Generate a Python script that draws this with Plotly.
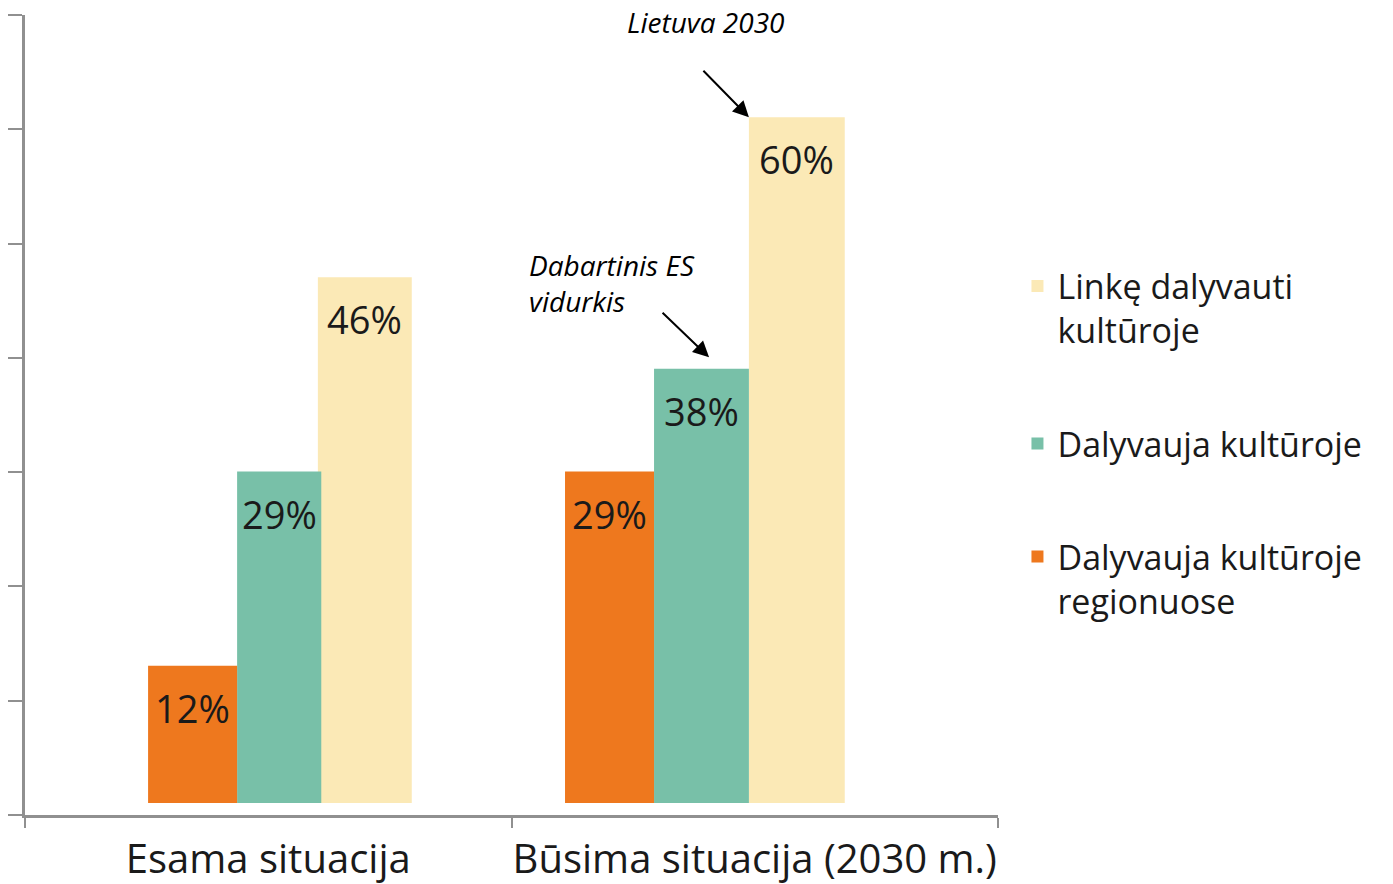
import plotly.graph_objects as go

categories = ["Esama situacija", "Būsima situacija (2030 m.)"]
series_names = ["Linkę dalyvauti<br>kultūroje", "Dalyvauja kultūroje", "Dalyvauja kultūroje<br>regionuose"]
inclined_vals = [46, 60]
participates_vals = [29, 38]
regions_vals = [12, 29]
value_labels = [["46%", "60%"], ["29%", "38%"], ["12%", "29%"]]

series_vals = [inclined_vals, participates_vals, regions_vals]
colors = ["#FBE9B6", "#78C0A8", "#EE781E"]
offsets = [[0.102, -0.012], [-0.064, -0.207], [-0.247, -0.390]]
widths = [[0.193, 0.197], [0.173, 0.195], [0.183, 0.183]]

FONT = "Open Sans"
TXT = "#1a1a1a"

fig = go.Figure()
for i in range(3):
    fig.add_trace(go.Bar(
        x=categories, y=series_vals[i], name=series_names[i],
        marker=dict(color=colors[i], line=dict(width=0)),
        offset=offsets[i], width=widths[i],
        legendgroup=f"g{i}", hoverinfo="skip",
    ))

annotations = []
for i in range(3):
    for j in range(2):
        annotations.append(dict(
            x=j + offsets[i][j] + widths[i][j] / 2, y=series_vals[i][j],
            xref="x", yref="y", text=value_labels[i][j], showarrow=False,
            yanchor="top", xanchor="center", yshift=-14,
            font=dict(family=FONT, size=38, color=TXT),
        ))

# callouts
annotations.append(dict(x=1 + offsets[0][1], y=inclined_vals[1], xref="x", yref="y",
                        text="", showarrow=True, arrowhead=2, arrowsize=1.6, arrowwidth=2,
                        arrowcolor="#000", ax=-47, ay=-48, standoff=0))
annotations.append(dict(x=0.90, y=68.3, xref="x", yref="y", text="<i>Lietuva 2030</i>",
                        showarrow=False, xanchor="center", yanchor="middle",
                        font=dict(family=FONT, size=28, color="#000")))
annotations.append(dict(x=1 + offsets[1][1] + widths[1][1] * 0.58, y=participates_vals[1] + 1,
                        xref="x", yref="y",
                        text="", showarrow=True, arrowhead=2, arrowsize=1.6, arrowwidth=2,
                        arrowcolor="#000", ax=-48, ay=-46, standoff=0))
annotations.append(dict(x=0.532, y=45.5, xref="x", yref="y",
                        text="<i>Dabartinis ES<br>vidurkis</i>", align="left",
                        showarrow=False, xanchor="left", yanchor="middle",
                        font=dict(family=FONT, size=28, color="#000")))

fig.update_layout(
    width=1393, height=884,
    margin=dict(l=25, r=395, t=15, b=69),
    paper_bgcolor="white", plot_bgcolor="white",
    barmode="overlay",
    annotations=annotations,
    showlegend=True,
    legend=dict(x=1.02, y=0.697, xanchor="left", yanchor="top",
                traceorder="grouped", tracegroupgap=66, valign="top",
                font=dict(family=FONT, size=34, color=TXT), bgcolor="rgba(0,0,0,0)"),
    xaxis=dict(type="category", range=[-0.5, 1.5], showline=True, linecolor="#909090", linewidth=3,
               ticks="outside", tickson="boundaries", ticklen=10, tickwidth=2, tickcolor="#909090",
               tickangle=0, automargin=False, ticklabelstandoff=7,
               tickfont=dict(family=FONT, size=40, color=TXT), showgrid=False, zeroline=False),
    yaxis=dict(range=[-1.05, 68.95], showline=True, linecolor="#909090", linewidth=3,
               ticks="outside", tick0=-1.05, dtick=10, ticklen=14, tickwidth=2, tickcolor="#909090",
               automargin=False,
               showticklabels=False, showgrid=False, zeroline=False),
)

fig.write_html("out.html", config={"displayModeBar": False},
               post_script="document.body.style.margin='0';")
